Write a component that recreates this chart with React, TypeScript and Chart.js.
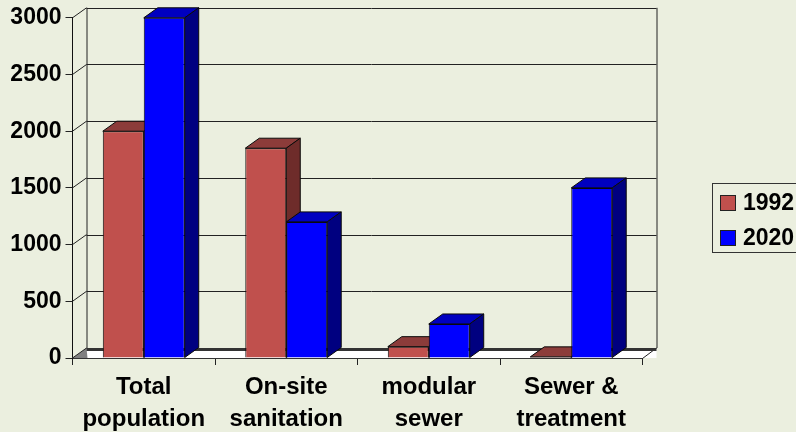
import React, { useEffect, useRef } from "react";
import { Chart, registerables } from "chart.js";

Chart.register(...registerables);

const categories = [["Total", "population"], ["On-site", "sanitation"], ["modular", "sewer"], ["Sewer &", "treatment"]];
const seriesNames = ["1992", "2020"];
const values1992 = [2000, 1850, 100, 10];
const values2020 = [3000, 1200, 300, 1500];
const yTicks = { min: 0, max: 3000, step: 500 };

const FONT = "'Liberation Sans', Arial, sans-serif";
const DX = 14;
const DY = -10;
const BG = "#EBEFDF";
const EDGE = "#0A0A0A";
const faces = [
  { front: "#C0504D", top: "#8C3C3A", side: "#6E2C2A" },
  { front: "#0000FF", top: "#0000C0", side: "#000080" },
];

function poly(ctx: CanvasRenderingContext2D, pts: number[][], fill: string, stroke?: string) {
  ctx.beginPath();
  pts.forEach((p, i) => (i ? ctx.lineTo(p[0], p[1]) : ctx.moveTo(p[0], p[1])));
  ctx.closePath();
  ctx.fillStyle = fill;
  ctx.fill();
  if (stroke) {
    ctx.strokeStyle = stroke;
    ctx.lineWidth = 1;
    ctx.stroke();
  }
}

const scene3d = {
  id: "scene3d",
  beforeDatasetsDraw(chart: any) {
    const { ctx, chartArea: a, scales } = chart;
    const y = scales.y;
    ctx.save();
    ctx.lineWidth = 1;
    // floor
    poly(ctx, [[a.left, a.bottom], [a.left + DX, a.bottom + DY], [a.right + DX, a.bottom + DY], [a.right + DX, a.bottom]], "#FFFFFF");
    poly(ctx, [[a.left, a.bottom], [a.left + DX, a.bottom + DY], [a.left + DX + 1, a.bottom]], "#808080");
    // back wall and side wall
    ctx.strokeStyle = "#222222";
    ctx.beginPath();
    ctx.moveTo(a.left + DX + 0.5, a.top + DY);
    ctx.lineTo(a.left + DX + 0.5, a.bottom + DY);
    ctx.moveTo(a.right + DX + 0.5, a.top + DY);
    ctx.lineTo(a.right + DX + 0.5, a.bottom + DY);
    ctx.moveTo(a.right, a.bottom + 0.5);
    ctx.lineTo(a.right + DX, a.bottom + DY);
    y.ticks.forEach((t: any) => {
      const py = y.getPixelForValue(t.value);
      ctx.moveTo(a.left, py);
      ctx.lineTo(a.left + DX, py + DY);
      ctx.moveTo(a.left + DX, Math.round(py + DY) + 0.5);
      ctx.lineTo(a.right + DX, Math.round(py + DY) + 0.5);
    });
    ctx.stroke();
    ctx.fillStyle = "#333333";
    ctx.fillRect(a.left + DX, a.bottom + DY, a.right - a.left, 3);
    // extruded top and side faces of every bar, behind all the front faces
    [0, 1].forEach((index) => {
      const f = faces[index];
      chart.getDatasetMeta(index).data.forEach((bar: any) => {
        const { x, y: by, width, base } = bar.getProps(["x", "y", "width", "base"], true);
        const l = x - width / 2;
        const r = x + width / 2;
        poly(ctx, [[l, by], [l + DX, by + DY], [r + DX, by + DY], [r, by]], f.top, EDGE);
        poly(ctx, [[r, by], [r + DX, by + DY], [r + DX, base + DY], [r, base]], f.side, EDGE);
      });
    });
    ctx.restore();
  },
  afterDraw(chart: any) {
    const { ctx } = chart;
    ctx.save();
    ctx.strokeStyle = "#333333";
    ctx.lineWidth = 1;
    ctx.strokeRect(712.5, 183.5, 90, 69);
    ctx.font = `bold 23px ${FONT}`;
    ctx.textBaseline = "middle";
    ctx.textAlign = "left";
    chart.data.datasets.forEach((d: any, i: number) => {
      const top = 195 + i * 35;
      ctx.fillStyle = faces[i].front;
      ctx.fillRect(720.5, top + 0.5, 15, 15);
      ctx.strokeStyle = "#222222";
      ctx.strokeRect(720.5, top + 0.5, 15, 15);
      ctx.fillStyle = "#000000";
      ctx.fillText(d.label, 743, top + 8.5);
    });
    ctx.restore();
  },
};

export default function App() {
  const ref = useRef<HTMLCanvasElement>(null);
  useEffect(() => {
    document.body.style.margin = "0";
    document.body.style.background = BG;
    const chart = new Chart(ref.current as HTMLCanvasElement, {
      type: "bar",
      data: {
        labels: categories as any,
        datasets: [
          { label: seriesNames[0], data: values1992, backgroundColor: faces[0].front, borderColor: EDGE, borderWidth: 1 },
          { label: seriesNames[1], data: values2020, backgroundColor: faces[1].front, borderColor: EDGE, borderWidth: 1 },
        ],
      },
      options: {
        responsive: false,
        animation: false,
        devicePixelRatio: 1,
        layout: { padding: { left: 0, top: 17, right: 153.5, bottom: 0 } },
        plugins: { legend: { display: false }, title: { display: false }, tooltip: { enabled: false } },
        datasets: { bar: { barPercentage: 1, categoryPercentage: 0.575 } },
        scales: {
          x: {
            afterFit: (s: any) => { s.height = 74; },
            grid: { drawOnChartArea: false, color: "#222222", tickLength: 7, offset: true },
            border: { color: "#333333", width: 2 },
            ticks: { color: "#000", padding: 6, maxRotation: 0, autoSkip: false, font: { family: FONT, size: 24, weight: "bold", lineHeight: 1.333 } },
          },
          y: {
            min: yTicks.min,
            max: yTicks.max,
            afterFit: (s: any) => { s.width = 72.5; },
            grid: { drawOnChartArea: false, color: "#222222", tickLength: 7 },
            border: { color: "#111111", width: 1 },
            ticks: { stepSize: yTicks.step, color: "#000", padding: 4, callback: (v: any) => String(v), font: { family: FONT, size: 23, weight: "bold" } },
          },
        },
      } as any,
      plugins: [scene3d],
    });
    return () => chart.destroy();
  }, []);
  return <canvas ref={ref} width={796} height={432} style={{ display: "block", width: 796, height: 432, background: BG }} />;
}
